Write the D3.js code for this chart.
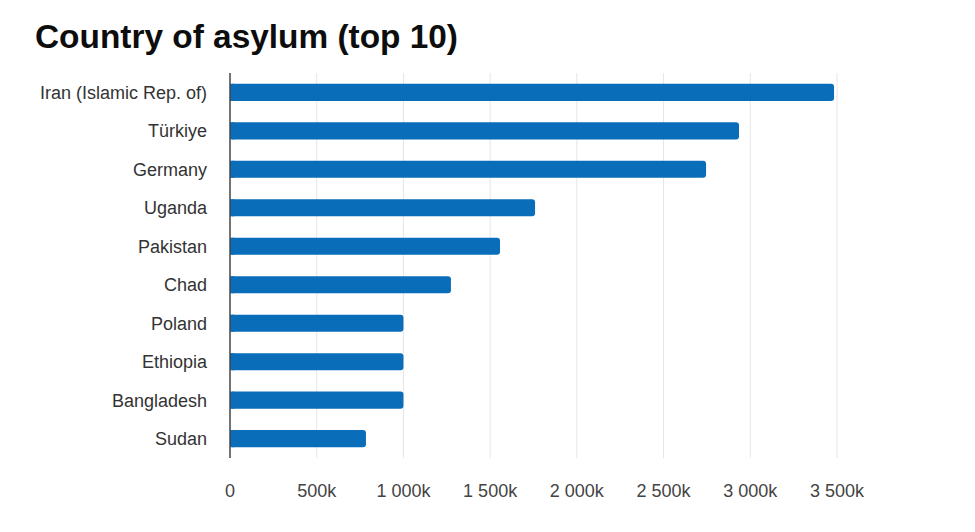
<!DOCTYPE html>
<html>
<head>
<meta charset="utf-8">
<script src="https://cdn.jsdelivr.net/npm/d3@7"></script>
<style>
  html, body { margin: 0; padding: 0; background: #fff; }
  svg { display: block; }
  text { font-family: "Liberation Sans", Arial, sans-serif; }
</style>
</head>
<body>
<svg id="chart" width="975" height="532"></svg>
<script>
const title = "Country of asylum (top 10)";
const countries = ["Iran (Islamic Rep. of)", "Türkiye", "Germany", "Uganda", "Pakistan", "Chad", "Poland", "Ethiopia", "Bangladesh", "Sudan"];
const refugees = [3483000, 2935000, 2745000, 1759000, 1557000, 1274000, 1000000, 1000000, 1000000, 784000];
const tickValues = [0, 500000, 1000000, 1500000, 2000000, 2500000, 3000000, 3500000];
const tickLabels = ["0", "500k", "1 000k", "1 500k", "2 000k", "2 500k", "3 000k", "3 500k"];

const svg = d3.select("#chart");
const plotLeft = 230, plotRight = 837, plotTop = 73, plotBottom = 458;

const x = d3.scaleLinear().domain([0, 3500000]).range([plotLeft, plotRight]);
const y = d3.scaleBand().domain(countries).range([plotTop, plotBottom]).paddingInner(0.555).paddingOuter(0.28);

// title
svg.append("text")
  .attr("x", 35).attr("y", 47.5)
  .attr("font-size", 33.4).attr("font-weight", "bold").attr("fill", "#0d0d0d")
  .text(title);

// gridlines
svg.append("g").selectAll("line")
  .data(tickValues.slice(1))
  .join("line")
  .attr("x1", d => x(d)).attr("x2", d => x(d))
  .attr("y1", plotTop).attr("y2", plotBottom)
  .attr("stroke", "#e6e6e6").attr("stroke-width", 1);

// bars
svg.append("g").selectAll("rect")
  .data(countries)
  .join("rect")
  .attr("x", x(0))
  .attr("y", d => y(d))
  .attr("width", (d, i) => x(refugees[i]) - x(0))
  .attr("height", y.bandwidth())
  .attr("rx", 3).attr("ry", 3)
  .attr("fill", "#0a6db9");

// square off left end at the axis
svg.append("g").selectAll("rect")
  .data(countries)
  .join("rect")
  .attr("x", x(0))
  .attr("y", d => y(d))
  .attr("width", 4)
  .attr("height", y.bandwidth())
  .attr("fill", "#0a6db9");

// axis line
svg.append("line")
  .attr("x1", x(0)).attr("x2", x(0))
  .attr("y1", plotTop).attr("y2", plotBottom)
  .attr("stroke", "#444").attr("stroke-width", 1.5);

// category labels
svg.append("g").selectAll("text")
  .data(countries)
  .join("text")
  .attr("x", 207)
  .attr("y", d => y(d) + y.bandwidth() / 2)
  .attr("dy", "0.36em")
  .attr("text-anchor", "end")
  .attr("font-size", 18)
  .attr("fill", "#333")
  .text(d => d);

// x tick labels
svg.append("g").selectAll("text")
  .data(tickValues)
  .join("text")
  .attr("x", d => x(d))
  .attr("y", 497)
  .attr("text-anchor", "middle")
  .attr("font-size", 18)
  .attr("fill", "#444")
  .text((d, i) => tickLabels[i]);
</script>
</body>
</html>
